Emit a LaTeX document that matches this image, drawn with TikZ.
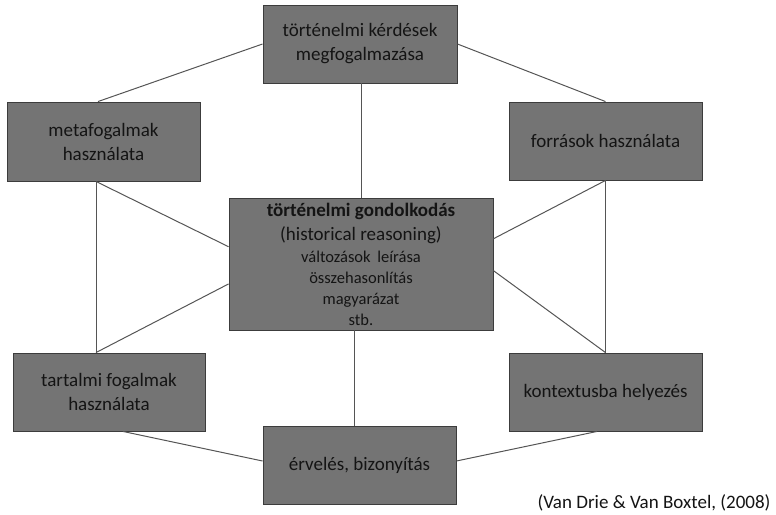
\documentclass[tikz,border=0pt]{standalone}
\usepackage{fontspec}
\setmainfont{Carlito}
\usetikzlibrary{calc}
\definecolor{boxfill}{HTML}{747474}
\definecolor{boxline}{HTML}{3C3C3C}
\definecolor{conline}{HTML}{555555}
\definecolor{txt}{HTML}{141414}
\tikzset{
  topic/.style={draw=boxline, line width=0.9pt, fill=boxfill, text=txt,
    align=center, inner sep=2pt,
    font=\fontsize{19}{24}\selectfont},
  link/.style={draw=conline, line width=1pt},
}
\begin{document}
\begin{tikzpicture}[x=1pt,y=-1pt]
\useasboundingbox (0,0) rectangle (776,514);
\node[topic, minimum width=194pt, minimum height=78pt] (top) at (360,44)
  {történelmi kérdések\\megfogalmazása};
\node[topic, minimum width=193pt, minimum height=79pt] (meta) at (103.5,141.5)
  {metafogalmak\\használata};
\node[topic, minimum width=193pt, minimum height=78pt] (forr) at (605.5,141)
  {források használata};
\node[topic, minimum width=264pt, minimum height=132pt,
  font=\fontsize{16.5}{21}\selectfont] (cent) at (361,264)
  {{\bfseries\fontsize{19}{24}\selectfont történelmi gondolkodás}\\[3pt]
   {\fontsize{19}{24}\selectfont (historical reasoning)}\\[1pt]
   változások\hspace{3pt} leírása\\összehasonlítás\\magyarázat\\stb.};
\node[topic, minimum width=192pt, minimum height=78pt] (tart) at (109,392)
  {tartalmi fogalmak\\használata};
\node[topic, minimum width=193pt, minimum height=78pt] (kont) at (605.5,392)
  {kontextusba helyezés};
\node[topic, minimum width=193pt, minimum height=78pt] (erv) at (359.5,465)
  {érvelés, bizonyítás};
\node[text=txt, anchor=east, font=\fontsize{19}{22}\selectfont] (cite) at (774,503)
  {(Van Drie \& Van Boxtel, (2008)};

\coordinate (metaS) at ($(meta.south)+(-7.5,0)$);
\coordinate (tartN) at ($(tart.north)+(-13,0)$);
\coordinate (tartS) at ($(tart.south)+(14,0)$);
\coordinate (ervW) at ($(erv.west)+(0,-4)$);
\coordinate (ervE) at ($(erv.east)+(0,-4)$);
\coordinate (kontS) at ($(kont.south)+(-8.5,0)$);
\coordinate (metaN) at ($(meta.north)+(-5.5,0)$);
\coordinate (cL1) at ($(cent.north west)!0.37!(cent.south west)$);
\coordinate (cL2) at ($(cent.north west)!0.65!(cent.south west)$);
\coordinate (cR1) at ($(cent.north east)!0.31!(cent.south east)$);
\coordinate (cR2) at ($(cent.north east)!0.55!(cent.south east)$);
\coordinate (cS) at ($(cent.south)+(-7,0)$);

\draw[link] (top.west) -- (metaN);
\draw[link] (top.east) -- (forr.north);
\draw[link] (cent.north) -- (cent.north |- top.south);
\draw[link] (metaS) -- (tartN);
\draw[link] (metaS) -- (cL1);
\draw[link] (tartN) -- (cL2);
\draw[link] (forr.south) -- (kont.north);
\draw[link] (forr.south) -- (cR1);
\draw[link] (kont.north) -- (cR2);
\draw[link] (cS) -- (cS |- erv.north);
\draw[link] (tartS) -- (ervW);
\draw[link] (ervE) -- (kontS);
\end{tikzpicture}
\end{document}
